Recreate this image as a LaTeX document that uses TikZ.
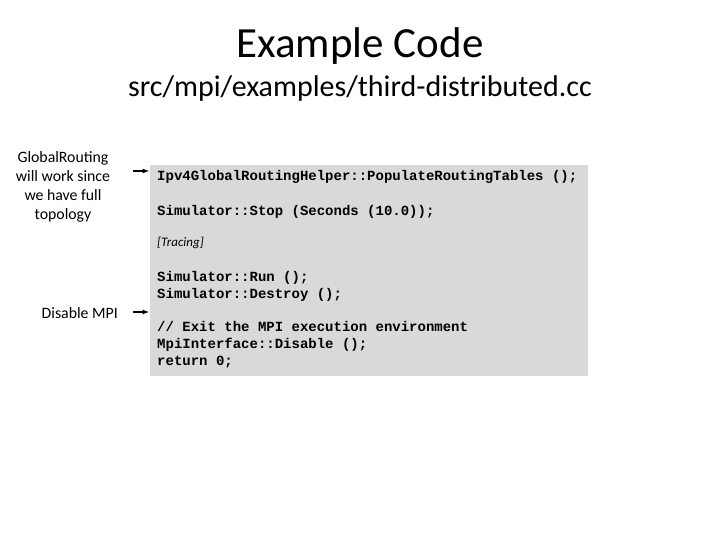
\documentclass[tikz,border=0pt]{standalone}
\usepackage{fontspec}
\setmainfont{Carlito}
\newfontfamily\codefont{Liberation Mono}
\begin{document}
\begin{tikzpicture}[x=1pt,y=-1pt,
  code/.style={anchor=base west,inner sep=0pt,font=\codefont\bfseries\fontsize{14}{14}\selectfont},
  lbl/.style={align=center,font=\fontsize{15.8}{19}\selectfont,inner sep=0pt},
  arr/.style={-latex,line width=1.2pt}]
\useasboundingbox (0,0) rectangle (720,540);
\node (title) at (360,46) {\fontsize{43}{45}\selectfont Example Code};
\node (sub) at (360,89) {\fontsize{30}{32}\selectfont src/mpi/examples/third-distributed.cc};
\node[fill={rgb,255:red,217;green,217;blue,217},minimum width=438,minimum height=211,inner sep=0pt,anchor=north west] (box) at (150,165) {};
\node[code] (c1) at (157,181) {Ipv4GlobalRoutingHelper::PopulateRoutingTables ();};
\node[code] (c2) at (157,215) {Simulator::Stop (Seconds (10.0));};
\node[anchor=base west,inner sep=0pt,font=\itshape\fontsize{13}{14}\selectfont] (c3) at (157,247) {[Tracing]};
\node[code] (c4) at (157,281) {Simulator::Run ();};
\node[code] (c5) at (157,298) {Simulator::Destroy ();};
\node[code] (c6) at (157,331) {// Exit the MPI execution environment};
\node[code] (c7) at (157,348) {MpiInterface::Disable ();};
\node[code] (c8) at (157,365) {return 0;};
\node[lbl] (l1) at (63,187) {GlobalRouting\\will work since\\we have full\\topology};
\node[lbl,anchor=east] (l2) at (118,313) {Disable MPI};
\coordinate (a1s) at (133,171); \coordinate (a1e) at (149,171);
\coordinate (a2s) at (133,312); \coordinate (a2e) at (149,312);
\draw[arr] (a1s) -- (a1e);
\draw[arr] (a2s) -- (a2e);
\end{tikzpicture}
\end{document}
